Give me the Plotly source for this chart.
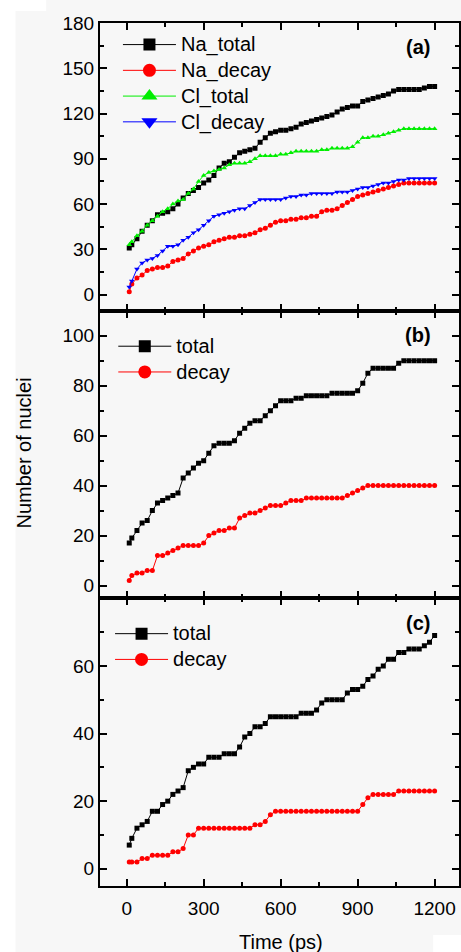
import plotly.graph_objects as go
from plotly.subplots import make_subplots

time_ps = [10, 20, 40, 60, 80, 100, 120, 140, 160, 180, 200, 220, 240, 260, 280, 300,
           320, 340, 360, 380, 400, 420, 440, 460, 480, 500, 520, 540, 560, 580, 600,
           620, 640, 660, 680, 700, 720, 740, 760, 780, 800, 820, 840, 860, 880, 900,
           920, 940, 960, 980, 1000, 1020, 1040, 1060, 1080, 1100, 1120, 1140, 1160, 1180, 1200]

# Panel (a)
na_total = [31, 33, 37, 42, 46, 49, 53, 54, 55, 57, 60, 64, 67, 69, 71, 74,
            76, 79, 84, 87, 88, 91, 94, 95, 96, 97, 101, 104, 107, 108, 109,
            109, 110, 111, 113, 114, 115, 116, 117, 118, 119, 121, 123, 124, 125, 125,
            128, 129, 130, 131, 132, 133, 135, 136, 136, 136, 136, 136, 137, 138, 138]
na_decay = [2, 7, 11, 13, 16, 17, 18, 18, 19, 22, 23, 24, 27, 29, 31, 32,
            33, 35, 36, 37, 38, 38, 39, 39, 40, 41, 43, 44, 46, 48, 49,
            49, 50, 50, 51, 51, 52, 52, 55, 56, 56, 57, 59, 61, 63, 65,
            66, 67, 68, 69, 70, 71, 72, 73, 74, 74, 74, 74, 74, 74, 74]
cl_total = [33, 35, 39, 42, 46, 49, 52, 55, 57, 60, 62, 63, 67, 70, 75, 79,
            81, 82, 83, 84, 86, 87, 87, 87, 88, 90, 92, 92, 92, 92, 93,
            93, 94, 95, 95, 95, 95, 95, 96, 96, 97, 97, 97, 97, 98, 101,
            104, 104, 105, 105, 106, 107, 108, 109, 110, 110, 110, 110, 110, 110, 110]
cl_decay = [5, 9, 17, 21, 23, 24, 26, 29, 32, 32, 33, 36, 38, 41, 43, 46,
            49, 52, 53, 54, 55, 56, 57, 57, 59, 61, 63, 63, 63, 63, 63,
            64, 65, 65, 66, 66, 67, 67, 67, 67, 67, 68, 68, 68, 69, 70,
            71, 71, 72, 73, 74, 74, 75, 76, 76, 77, 77, 77, 77, 77, 77]

# Panel (b)
b_total = [17, 19, 22, 25, 26, 30, 33, 34, 35, 36, 37, 43, 45, 47, 49, 50,
           53, 56, 57, 57, 57, 58, 61, 63, 65, 66, 66, 68, 70, 72, 74,
           74, 74, 75, 75, 76, 76, 76, 76, 76, 77, 77, 77, 77, 77, 78,
           81, 85, 87, 87, 87, 87, 87, 89, 90, 90, 90, 90, 90, 90, 90]
b_decay = [2, 4, 5, 5, 6, 6, 12, 12, 13, 14, 15, 16, 16, 16, 16, 17,
           20, 21, 22, 22, 23, 23, 27, 28, 29, 29, 30, 31, 32, 32, 32,
           33, 34, 34, 34, 35, 35, 35, 35, 35, 35, 35, 35, 36, 37, 38,
           39, 40, 40, 40, 40, 40, 40, 40, 40, 40, 40, 40, 40, 40, 40]

# Panel (c)
c_total = [7, 9, 12, 13, 14, 17, 17, 19, 20, 22, 23, 24, 29, 30, 31, 31,
           33, 33, 33, 34, 34, 34, 36, 39, 40, 42, 42, 43, 45, 45, 45,
           45, 45, 45, 46, 46, 46, 47, 49, 50, 50, 50, 50, 52, 53, 53,
           54, 56, 57, 59, 60, 62, 62, 64, 64, 65, 65, 65, 66, 67, 69]
c_decay = [2, 2, 2, 3, 3, 4, 4, 4, 4, 5, 5, 6, 10, 10, 12, 12,
           12, 12, 12, 12, 12, 12, 12, 12, 12, 13, 13, 14, 16, 17, 17,
           17, 17, 17, 17, 17, 17, 17, 17, 17, 17, 17, 17, 17, 17, 17,
           19, 21, 22, 22, 22, 22, 22, 23, 23, 23, 23, 23, 23, 23, 23]

x_ticks = [0, 300, 600, 900, 1200]
y_ticks_a = [0, 30, 60, 90, 120, 150, 180]
y_ticks_b = [0, 20, 40, 60, 80, 100]
y_ticks_c = [0, 20, 40, 60]
panel_labels = ["(a)", "(b)", "(c)"]

FONT = "Liberation Sans, Arial, sans-serif"
BG = "#f7f7f7"

fig = make_subplots(rows=3, cols=1, shared_xaxes=True, vertical_spacing=0)

SYM_SIZE = {"square": 12, "circle": 13, "triangle-up": 14, "triangle-down": 14}

def add(row, y, name, color, symbol, legend):
    fig.add_trace(go.Scatter(
        x=time_ps, y=y, name=name, mode="lines+markers",
        line=dict(color=color, width=1),
        marker=dict(color=color, symbol=symbol, size=5, line=dict(width=0)),
        showlegend=False), row=row, col=1)
    # legend entry (larger symbol, thin line), same series style
    fig.add_trace(go.Scatter(
        x=[None], y=[None], mode="lines+markers",
        name='<span style="font-size:20px">%s</span>' % name,
        line=dict(color=color, width=1),
        marker=dict(color=color, symbol=symbol, size=SYM_SIZE[symbol], line=dict(width=0)),
        legend=legend, hoverinfo="skip"), row=row, col=1)

add(1, na_total, "Na_total", "#000000", "square", "legend")
add(1, na_decay, "Na_decay", "#ff0000", "circle", "legend")
add(1, cl_total, "Cl_total", "#00ee00", "triangle-up", "legend")
add(1, cl_decay, "Cl_decay", "#0000ff", "triangle-down", "legend")
add(2, b_total, "total", "#000000", "square", "legend2")
add(2, b_decay, "decay", "#ff0000", "circle", "legend2")
add(3, c_total, "total", "#000000", "square", "legend3")
add(3, c_decay, "decay", "#ff0000", "circle", "legend3")

axis_common = dict(showline=True, linecolor="black", linewidth=2, mirror="ticks",
                   ticks="inside", ticklen=7, tickwidth=2, tickcolor="black",
                   showgrid=False, zeroline=False,
                   tickfont=dict(family=FONT, size=19, color="black"))

def minor(d):
    return dict(ticks="inside", ticklen=4, tickwidth=2, dtick=d, tick0=0, tickcolor="black")

for r in (1, 2, 3):
    fig.update_xaxes(range=[-104, 1295], tickvals=x_ticks, minor=minor(150),
                     showticklabels=(r == 3), ticklabelstandoff=4,
                     row=r, col=1, **axis_common)

fig.update_yaxes(range=[-10.6, 180], tickvals=y_ticks_a, minor=minor(15), row=1, col=1, **axis_common)
fig.update_yaxes(range=[-5.1, 110], tickvals=y_ticks_b, minor=minor(10), row=2, col=1, **axis_common)
fig.update_yaxes(range=[-5.1, 80], tickvals=y_ticks_c, minor=minor(10), row=3, col=1, **axis_common)

leg_common = dict(font=dict(family=FONT, size=17.5, color="black"), bgcolor="rgba(0,0,0,0)",
                  itemsizing="trace", tracegroupgap=0, xanchor="left", yanchor="top",
                  itemwidth=53)

fig.update_layout(
    width=461, height=952,
    margin=dict(l=100, r=0, t=23, b=66),
    paper_bgcolor=BG, plot_bgcolor=BG,
    font=dict(family=FONT, color="black"),
    showlegend=True,
    legend=dict(x=0.05, y=0.9957, **leg_common),
    legend2=dict(x=0.037, y=0.6462, **leg_common),
    legend3=dict(x=0.028, y=0.3131, **leg_common),
)

for i, lab in enumerate(panel_labels):
    fig.add_annotation(text="<b>%s</b>" % lab, x=1134, y=0.915,
                       xref="x%s" % ("" if i == 0 else i + 1),
                       yref="y%s domain" % ("" if i == 0 else i + 1),
                       showarrow=False, xanchor="center", yanchor="middle",
                       font=dict(family=FONT, size=20, color="black"))

fig.add_annotation(text="Time (ps)", x=0.504, y=-0.0649, xref="paper", yref="paper",
                   showarrow=False, xanchor="center", yanchor="middle",
                   font=dict(family=FONT, size=20, color="black"))
fig.add_annotation(text="Number of nuclei", x=-0.213, y=0.5017, xref="paper", yref="paper",
                   textangle=-90, showarrow=False, xanchor="center", yanchor="middle",
                   font=dict(family=FONT, size=20, color="black"))

# white scan margins
fig.add_shape(type="rect", xref="paper", yref="paper", x0=-0.3, x1=-0.2355, y0=-0.1, y1=1.1,
              fillcolor="white", line_width=0, layer="below")
fig.add_shape(type="rect", xref="paper", yref="paper", x0=-0.3, x1=-0.15, y0=1.0138, y1=1.1,
              fillcolor="white", line_width=0, layer="below")
fig.add_shape(type="rect", xref="paper", yref="paper", x0=0.928, x1=1.1, y0=-0.1, y1=-0.0568,
              fillcolor="white", line_width=0, layer="below")

fig.write_html("out.html")
